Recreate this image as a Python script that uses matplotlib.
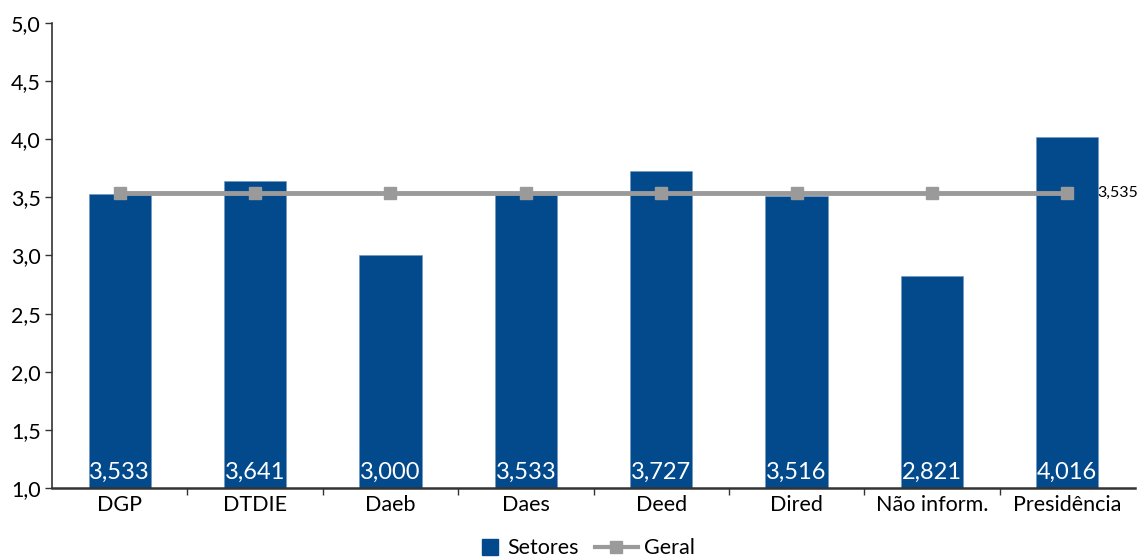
import matplotlib
matplotlib.use("Agg")
import matplotlib.pyplot as plt
from matplotlib.lines import Line2D
from matplotlib.ticker import FixedLocator, FuncFormatter
import numpy as np

# dados
setores = ["DGP", "DTDIE", "Daeb", "Daes", "Deed", "Dired", "Não inform.", "Presidência"]
notas_setores = [3.533, 3.641, 3.000, 3.533, 3.727, 3.516, 2.821, 4.016]
nota_geral = [3.535] * len(setores)

COR_AZUL = "#034a8c"
COR_CINZA = "#9a9a9a"

plt.rcParams["font.family"] = ["Lato", "DejaVu Sans"]


def virgula(v, casas):
    return f"{v:.{casas}f}".replace(".", ",")


fig = plt.figure(figsize=(11.39, 5.57), dpi=100)
ax = fig.add_axes([0.0457, 0.1239, 0.9508, 0.8348])

x = np.arange(len(setores))
ax.bar(x, notas_setores, width=0.46, bottom=0, color=COR_AZUL,
       edgecolor="#6f93bd", linewidth=0.4, zorder=2)
ax.plot(x, nota_geral, color=COR_CINZA, linewidth=3.5, marker="s",
        markersize=9, zorder=3)

for xi, v in zip(x, notas_setores):
    ax.text(xi, 1.045, virgula(v, 3), ha="center", va="bottom",
            color="white", fontsize=17, zorder=4)
ax.text(x[-1] + 0.22, nota_geral[-1], virgula(nota_geral[-1], 3),
        ha="left", va="center", fontsize=11.5, color="black")

ax.set_xlim(-0.5, len(setores) - 0.5)
ax.set_ylim(1.0, 5.0)
ax.set_yticks(np.arange(1.0, 5.01, 0.5))
ax.yaxis.set_major_formatter(FuncFormatter(lambda v, p: virgula(v, 1)))

ax.set_xticks(x)
ax.set_xticklabels(setores)
ax.xaxis.set_minor_locator(FixedLocator(np.arange(0.5, len(setores) - 0.5, 1)))
ax.tick_params(axis="x", which="major", length=0, labelsize=15.5, pad=5)
ax.tick_params(axis="x", which="minor", length=5, width=1, color="#333333")
ax.tick_params(axis="y", length=5, width=1, labelsize=15.5, color="#333333", pad=3)

for lado in ["top", "right"]:
    ax.spines[lado].set_visible(False)
ax.spines["left"].set_color("#333333")
ax.spines["bottom"].set_color("#333333")
ax.spines["left"].set_linewidth(1.2)
ax.spines["bottom"].set_linewidth(1.8)

# legenda em duas partes para controlar o tamanho de cada símbolo
h_setores = Line2D([], [], linestyle="none", marker="s", markersize=11, color=COR_AZUL)
h_geral = Line2D([], [], color=COR_CINZA, linewidth=3, marker="s", markersize=9)
fig.legend([h_setores], ["Setores"], loc="center right",
           bbox_to_anchor=(0.508, 0.016), frameon=False, fontsize=15.5,
           handlelength=0.9, handletextpad=0.35, borderpad=0, borderaxespad=0)
fig.legend([h_geral], ["Geral"], loc="center left",
           bbox_to_anchor=(0.522, 0.016), frameon=False, fontsize=15.5,
           handlelength=2.0, handletextpad=0.3, borderpad=0, borderaxespad=0)

fig.savefig("out.png", dpi=100)
